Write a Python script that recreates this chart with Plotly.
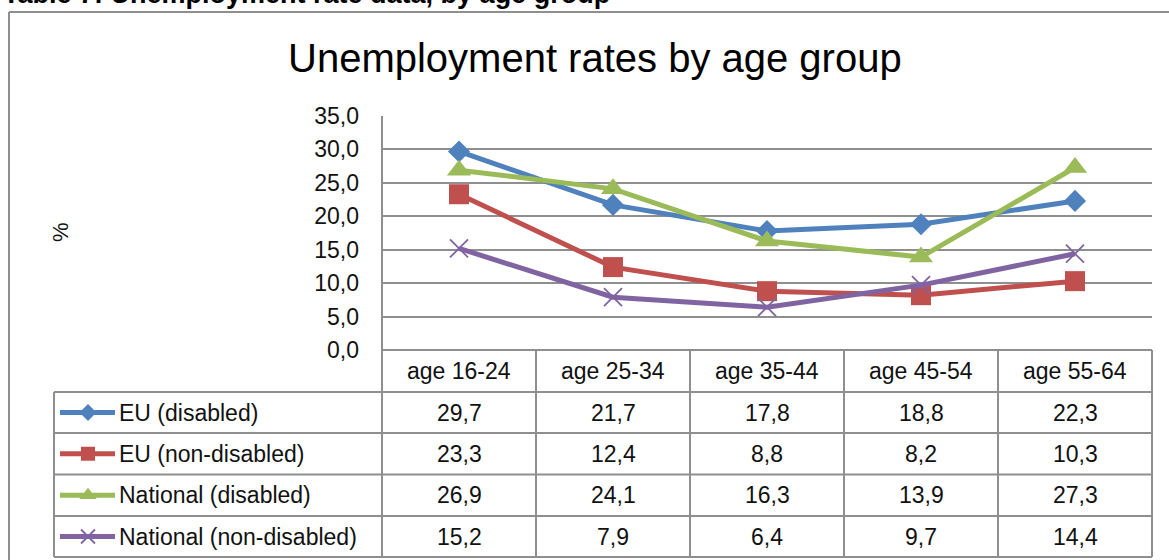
import plotly.graph_objects as go

# ---------------- data ----------------
categories = ["age 16-24", "age 25-34", "age 35-44", "age 45-54", "age 55-64"]
series_names = ["EU (disabled)", "EU (non-disabled)", "National (disabled)", "National (non-disabled)"]
eu_disabled = [29.7, 21.7, 17.8, 18.8, 22.3]
eu_non_disabled = [23.3, 12.4, 8.8, 8.2, 10.3]
national_disabled = [26.9, 24.1, 16.3, 13.9, 27.3]
national_non_disabled = [15.2, 7.9, 6.4, 9.7, 14.4]
y_ticks = [0, 5, 10, 15, 20, 25, 30, 35]

series_values = [eu_disabled, eu_non_disabled, national_disabled, national_non_disabled]

# ---------------- styles ----------------
W, H = 1169, 560
colors = ["#4F81BD", "#C0504D", "#9BBB59", "#8064A2"]
symbols = ["diamond", "square", "triangle-up", "x-thin"]
msizes = [17, 20, 21, 18]
key_sizes = [13, 14, 15, 14]
FONT = "Liberation Sans, Arial, sans-serif"
GRID = "#8f8f8f"
TXT = "#111111"


def px(x):
    return x / W


def py(y):
    return 1 - y / H


# plot area in pixels
PL, PR, PT, PB = 382, 1152, 116, 350
# table geometry
TL = 54
row_lines = [392, 433, 474.5, 516, 557]
col_w = (PR - PL) / len(categories)

fig = go.Figure()

for name, vals, c, s, ms in zip(series_names, series_values, colors, symbols, msizes):
    mk = dict(symbol=s, size=ms, color=c)
    if s == "x-thin":
        mk["line"] = dict(width=1.8, color=c)
    fig.add_trace(go.Scatter(
        x=list(range(len(categories))), y=vals, mode="lines+markers",
        name=name, line=dict(color=c, width=5), marker=mk,
        xaxis="x", yaxis="y", showlegend=False, cliponaxis=False,
    ))

# legend keys inside the data table (separate full-page pixel axes)
for i, (c, s, ms) in enumerate(zip(colors, symbols, key_sizes)):
    yc = (row_lines[i] + row_lines[i + 1]) / 2
    mk = dict(symbol=s, size=ms, color=c)
    if s == "x-thin":
        mk["line"] = dict(width=1.8, color=c)
    fig.add_trace(go.Scatter(x=[60, 115], y=[yc, yc], mode="lines", line=dict(color=c, width=5),
                             xaxis="x2", yaxis="y2", showlegend=False, hoverinfo="skip"))
    fig.add_trace(go.Scatter(x=[88], y=[yc], mode="markers", marker=mk,
                             xaxis="x2", yaxis="y2", showlegend=False, hoverinfo="skip"))

shapes = []


def hline(y, x0, x1, w=2):
    shapes.append(dict(type="line", xref="paper", yref="paper", x0=px(x0), x1=px(x1),
                       y0=py(y), y1=py(y), line=dict(color=GRID, width=w)))


def vline(x, y0, y1, w=2):
    shapes.append(dict(type="line", xref="paper", yref="paper", x0=px(x), x1=px(x),
                       y0=py(y0), y1=py(y1), line=dict(color=GRID, width=w)))


# outer chart border
hline(12, 9, W + 5)
vline(9, 12, H + 5)
# table
for y in row_lines:
    hline(y, TL, PR)
hline(PB, PL, PR)
vline(TL, row_lines[0], row_lines[-1])
vline(PL, PT, row_lines[-1])
for k in range(1, len(categories) + 1):
    vline(PL + k * col_w, PB, row_lines[-1])

annotations = []
# page heading (cropped at the top, as in the source)
annotations.append(dict(text="<b>Table 7: Unemployment rate data, by age group</b>", x=px(1), y=py(11),
                        xref="paper", yref="paper", xanchor="left", yanchor="bottom", showarrow=False,
                        font=dict(family=FONT, size=27, color="#000000")))
# chart title
annotations.append(dict(text="Unemployment rates by age group", x=px(595), y=py(58),
                        xref="paper", yref="paper", xanchor="center", yanchor="middle", showarrow=False,
                        font=dict(family=FONT, size=40, color="#000000")))
# y axis title
annotations.append(dict(text="%", x=px(60), y=py(232), xref="paper", yref="paper", textangle=-90,
                        xanchor="center", yanchor="middle", showarrow=False,
                        font=dict(family=FONT, size=22, color=TXT)))
# header row
for j, cat in enumerate(categories):
    annotations.append(dict(text=cat, x=px(PL + (j + 0.5) * col_w), y=py((PB + row_lines[0]) / 2),
                            xref="paper", yref="paper", xanchor="center", yanchor="middle",
                            showarrow=False, font=dict(family=FONT, size=23, color=TXT)))
# rows
for i, (name, vals) in enumerate(zip(series_names, series_values)):
    yc = (row_lines[i] + row_lines[i + 1]) / 2
    annotations.append(dict(text=name, x=px(117), y=py(yc), xref="paper", yref="paper",
                            xanchor="left", yanchor="middle", showarrow=False,
                            font=dict(family=FONT, size=23, color=TXT)))
    for j, v in enumerate(vals):
        annotations.append(dict(text=f"{v:.1f}".replace(".", ","), x=px(PL + (j + 0.5) * col_w),
                                y=py(yc), xref="paper", yref="paper", xanchor="center",
                                yanchor="middle", showarrow=False,
                                font=dict(family=FONT, size=23, color=TXT)))

fig.update_layout(
    width=W, height=H, margin=dict(l=0, r=0, t=0, b=0, pad=0, autoexpand=False),
    paper_bgcolor="white", plot_bgcolor="rgba(0,0,0,0)",
    separators=", ",
    font=dict(family=FONT, color=TXT),
    xaxis=dict(domain=[px(PL), px(PR)], range=[-0.5, len(categories) - 0.5], anchor="y",
               showgrid=False, zeroline=False, showticklabels=False, showline=False, fixedrange=True),
    yaxis=dict(domain=[py(PB), py(PT)], range=[0, 35], tickvals=y_ticks, tickformat=".1f", anchor="x",
               showgrid=True, gridcolor=GRID, gridwidth=2, zeroline=False,
               showline=False, ticks="", ticklabelstandoff=22,
               tickfont=dict(family=FONT, size=23, color=TXT), fixedrange=True),
    xaxis2=dict(domain=[0, 1], range=[0, W], visible=False, anchor="y2", fixedrange=True),
    yaxis2=dict(domain=[0, 1], range=[H, 0], visible=False, anchor="x2", fixedrange=True),
    shapes=shapes, annotations=annotations,
)

fig.write_html("out.html")
